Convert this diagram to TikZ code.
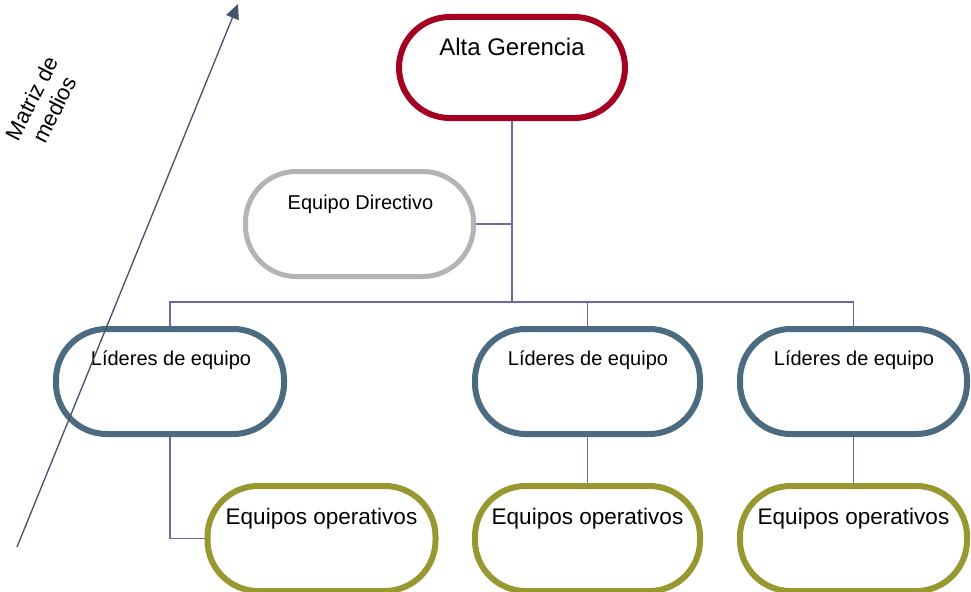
\documentclass[tikz,border=0pt]{standalone}
\usepackage{fontspec}
\setmainfont{Liberation Sans}
\usetikzlibrary{arrows.meta}
\definecolor{cRed}{RGB}{165,0,33}
\definecolor{cGray}{RGB}{180,180,180}
\definecolor{cSlate}{RGB}{76,107,128}
\definecolor{cOlive}{RGB}{152,152,48}
\definecolor{cConn}{RGB}{110,104,168}
\definecolor{cArrow}{RGB}{68,84,106}
\begin{document}
\begin{tikzpicture}[x=0.75pt,y=-0.75pt,
  pill/.style={draw, fill=white, rounded corners=38pt, minimum width=171pt, minimum height=78.75pt, inner sep=0pt, line width=4.5pt},
  lbl/.style={anchor=base, inner sep=0pt, text=black},
  conn/.style={draw=cConn, line width=1.2pt},
]
\useasboundingbox (0,0) rectangle (971,592);

% connectors (drawn first, nodes cover their ends)
\coordinate (bus) at (512,302);
\coordinate (altaS) at (512,118);
\coordinate (dirE) at (473.5,224);
\coordinate (lid1N) at (170,329);
\coordinate (lid2N) at (587.5,329);
\coordinate (lid3N) at (853.5,329);

% nodes
\node[pill, draw=cRed, minimum width=169.5pt, minimum height=75.75pt] (alta) at (512,67.5) {};
\node[lbl, font=\fontsize{18}{21}\selectfont] (altaT) at (512,56) {Alta Gerencia};

\node[pill, draw=cGray, line width=3.75pt] (dir) at (359.5,224) {};
\node[lbl, font=\fontsize{15}{18}\selectfont] (dirT) at (360.5,209) {Equipo Directivo};

\node[pill, draw=cSlate] (lid1) at (170,381.5) {};
\node[pill, draw=cSlate, minimum width=168.75pt] (lid2) at (587.5,381.5) {};
\node[pill, draw=cSlate, minimum width=170.25pt] (lid3) at (853.5,381.5) {};
\node[lbl, font=\fontsize{15}{18}\selectfont] (lid1T) at (171,365) {Líderes de equipo};
\node[lbl, font=\fontsize{15}{18}\selectfont] (lid2T) at (588,365) {Líderes de equipo};
\node[lbl, font=\fontsize{15}{18}\selectfont] (lid3T) at (854,365) {Líderes de equipo};

\node[pill, draw=cOlive] (op1) at (321.5,538.5) {};
\node[pill, draw=cOlive, minimum width=168.75pt] (op2) at (587.5,538.5) {};
\node[pill, draw=cOlive, minimum width=170.25pt] (op3) at (853.5,538.5) {};
\node[lbl, font=\fontsize{16.9}{20}\selectfont] (op1T) at (321.5,524) {Equipos operativos};
\node[lbl, font=\fontsize{16.9}{20}\selectfont] (op2T) at (587.5,524) {Equipos operativos};
\node[lbl, font=\fontsize{16.9}{20}\selectfont] (op3T) at (853.5,524) {Equipos operativos};

% connectors
\path[conn] (alta.south) -- (bus);
\path[conn] (dir.east) -- (dir.east -| alta.south);
\path[conn] (lid1.north) |- (bus) -| (lid3.north);
\path[conn] (lid2.north) -- (lid2.north |- bus);
\path[conn] (lid1.south) |- (op1.west);
\path[conn] (lid2.south) -- (op2.north);
\path[conn] (lid3.south) -- (op3.north);

% axis arrow
\coordinate (arrS) at (17,547);
\coordinate (arrT) at (238,4);
\draw[cArrow, line width=1pt, -{Triangle[length=11pt, width=10pt]}] (arrS) -- (arrT);
\node[rotate=63, align=center, font=\fontsize{16.5}{19}\selectfont, inner sep=0pt] (matriz) at (43,104) {Matriz de\\medios};
\end{tikzpicture}
\end{document}
